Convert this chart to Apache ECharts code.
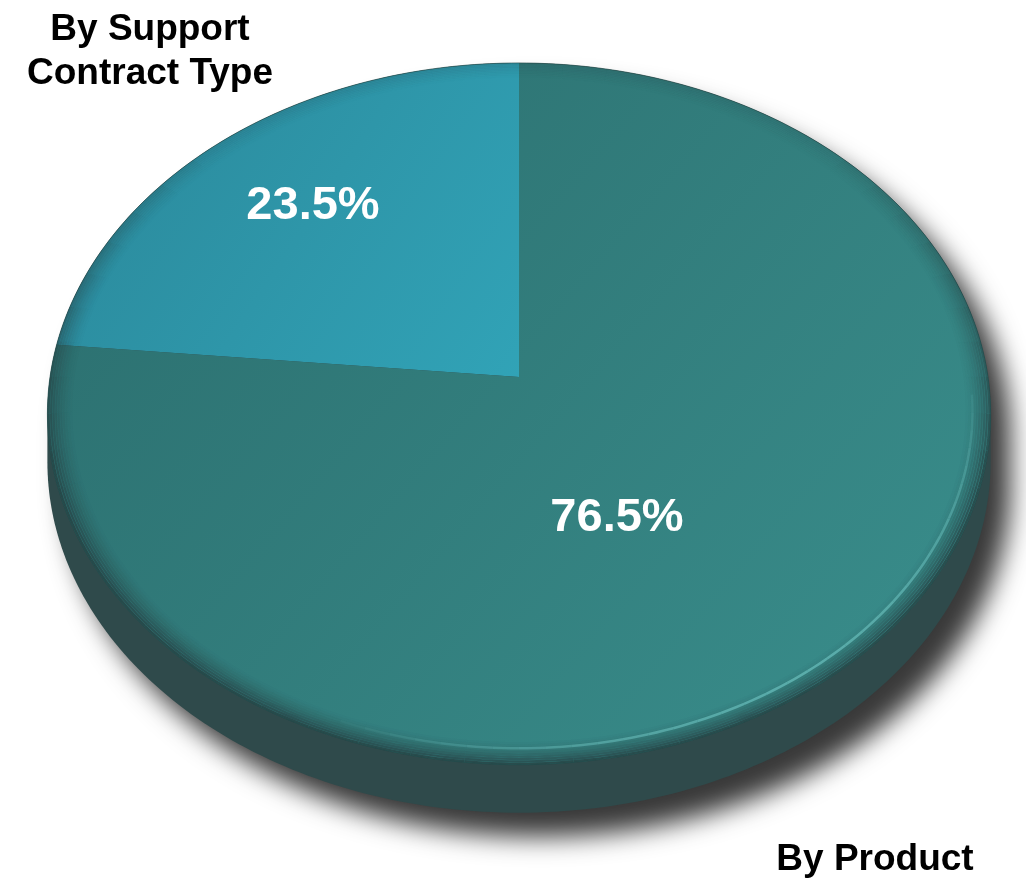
<!DOCTYPE html>
<html>
<head>
<meta charset="utf-8">
<script src="https://cdn.jsdelivr.net/npm/echarts@6/dist/echarts.min.js"></script>
<style>
  html, body { margin: 0; padding: 0; background: #ffffff; }
  #chart { width: 1026px; height: 881px; }
</style>
</head>
<body>
<div id="chart"></div>
<script>
// Slice names and their shares (percent)
const categories = ['By Support\nContract Type', 'By Product'];
const shares = [23.5, 76.5];

// Tilted-disc geometry: perspective-projected circle with an extruded side
const geo = { cx: 519, cy: 377, a: 469, b: 347, k: 0.105, depth: 48, startAngle: 90 };

// Label anchors and styling
const valueLabelPos = [[313, 206], [617, 518]];
const nameLabelPos = [[150, 52], [875, 860]];
const sliceGradients = [
  { from: [80, 90], to: [520, 380], stops: ['#2b899b', '#31a3b7'] },
  { from: [150, 120], to: [900, 760], stops: ['#2c7070', '#398d8b'] }
];
const FONT = '"Liberation Sans", Arial, Helvetica, sans-serif';

// Project a point of the unit disc (angle in degrees, radial fraction f) to the screen
function proj(deg, f, dy) {
  const t = deg * Math.PI / 180;
  const u = f * Math.cos(t), v = f * Math.sin(t);
  const s = 1 / (1 + geo.k * v);
  return [geo.cx + geo.a * u * s, geo.cy - geo.b * v * s + (dy || 0)];
}

function arc(from, to, f, dy) {
  const pts = [];
  const n = Math.max(2, Math.ceil(Math.abs(to - from)));
  for (let s = 0; s <= n; s++) pts.push(proj(from + (to - from) * s / n, f, dy));
  return pts;
}

const total = shares.reduce((s, v) => s + v, 0);

// Disc body: top outline plus the lower rim pushed down by the thickness
function renderBody() {
  const tw = Math.asin(geo.k) * 180 / Math.PI;
  const tR = -tw, tL = 180 + tw;
  const pts = arc(tR, tL, 1, 0).concat(arc(tL, tR + 360, 1, geo.depth));
  return {
    type: 'polygon',
    shape: { points: pts },
    style: {
      fill: '#2f4a4b',
      shadowBlur: 26,
      shadowOffsetX: 20,
      shadowOffsetY: 24,
      shadowColor: 'rgba(0,0,0,0.78)'
    }
  };
}

// One slice of the top face with its value and name labels
function renderSlice(params, api) {
  const i = params.dataIndex;
  let start = geo.startAngle;
  for (let j = 0; j < i; j++) start += shares[j] / total * 360;
  const sweep = api.value(0) / total * 360;
  const pts = [[geo.cx, geo.cy]].concat(arc(start, start + sweep, 1, 0));
  const g = sliceGradients[i];
  const fill = new echarts.graphic.LinearGradient(
    g.from[0], g.from[1], g.to[0], g.to[1],
    [{ offset: 0, color: g.stops[0] }, { offset: 1, color: g.stops[1] }], true);
  return {
    type: 'group',
    children: [
      { type: 'polygon', shape: { points: pts }, style: { fill: fill } },
      {
        type: 'text', x: valueLabelPos[i][0], y: valueLabelPos[i][1], z2: 10,
        style: {
          text: api.value(0).toFixed(1) + '%', fill: '#ffffff',
          fontSize: 47, fontWeight: 'bold', fontFamily: FONT,
          align: 'center', verticalAlign: 'middle'
        }
      },
      {
        type: 'text', x: nameLabelPos[i][0], y: nameLabelPos[i][1], z2: 10,
        style: {
          text: categories[i], fill: '#000000',
          fontSize: 37, fontWeight: 'bold', fontFamily: FONT, lineHeight: 44,
          align: 'center', verticalAlign: 'middle'
        }
      }
    ]
  };
}

// Soft bevel along the disc edge and a light glint on the front rim
function renderRim() {
  const children = [];
  const steps = 10;
  for (let i = 0; i < steps; i++) {
    const f = 1 - (i * 2 + 1) / 380;
    for (let a0 = 0; a0 < 360; a0 += 6) {
      const mid = (a0 + 3) * Math.PI / 180;
      const w = Math.min(1, Math.max(0, (0.7 - Math.sin(mid)) / 1.0));
      const taper = 0.15 + 0.85 * w;
      const alpha = 0.8 * Math.pow(1 - i / steps, 1.5) * taper;
      children.push({
        type: 'polyline', shape: { points: arc(a0, a0 + 6, f, 0) },
        style: { stroke: 'rgba(38,62,64,' + alpha.toFixed(3) + ')', lineWidth: 2.2, fill: null }
      });
    }
  }
  children.push({
    type: 'polygon', shape: { points: arc(0, 360, 1, 0) },
    style: { fill: null, stroke: 'rgba(30,66,66,0.6)', lineWidth: 1 }
  });
  for (let a0 = 240; a0 < 356; a0 += 3) {
    const mid = a0 + 1.5;
    const p = Math.cos((mid - 305) / 58 * Math.PI / 2);
    if (p <= 0) continue;
    children.push({
      type: 'polyline', shape: { points: arc(a0, a0 + 3, 0.962, 0) },
      style: { stroke: 'rgba(110,196,194,' + (0.65 * p).toFixed(3) + ')', lineWidth: 2.6, fill: null }
    });
  }
  return { type: 'group', children: children };
}

const chart = echarts.init(document.getElementById('chart'), null, { renderer: 'canvas' });
chart.setOption({
  animation: false,
  backgroundColor: '#ffffff',
  series: [
    { type: 'custom', name: 'body', coordinateSystem: 'none', z: 1, silent: true,
      data: [total], renderItem: renderBody },
    { type: 'custom', name: 'share', coordinateSystem: 'none', z: 2, silent: true,
      data: shares, renderItem: renderSlice },
    { type: 'custom', name: 'rim', coordinateSystem: 'none', z: 3, silent: true,
      data: [total], renderItem: renderRim }
  ]
});
</script>
</body>
</html>
